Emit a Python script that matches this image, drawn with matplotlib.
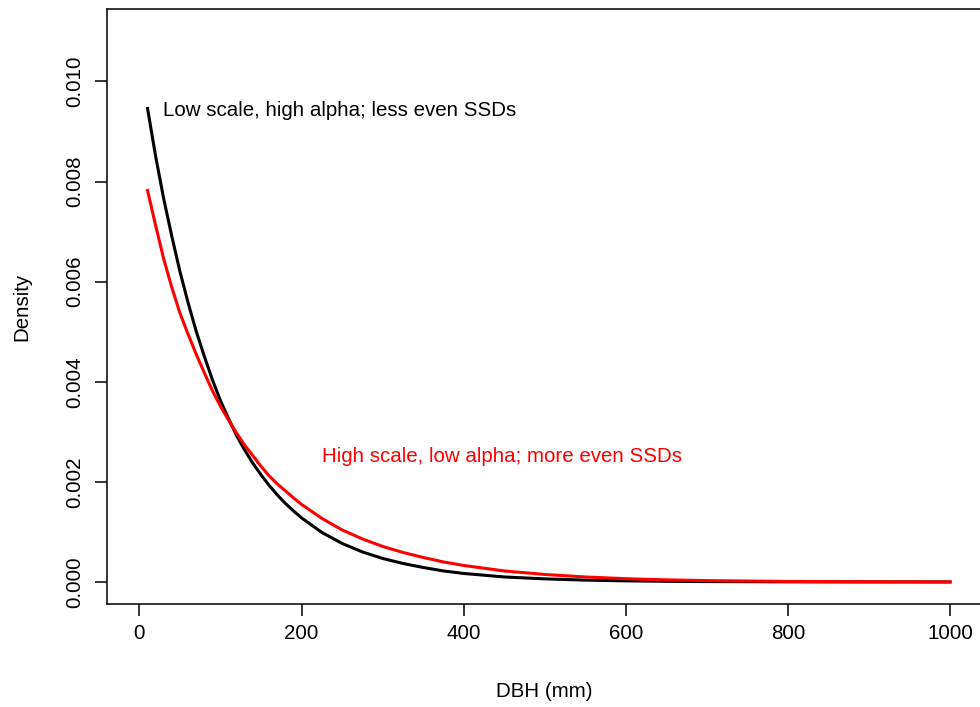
#!/usr/bin/env python

# Density curves of stem size distributions (DBH) for two parameter sets
import numpy as np
import matplotlib
matplotlib.use("Agg")
import matplotlib.pyplot as plt
from matplotlib.ticker import FormatStrFormatter

plt.rcParams['font.family'] = ['Liberation Sans', 'DejaVu Sans']

# DBH values (mm) at which the densities are listed
dbh = [10, 20, 30, 40, 50, 60, 70, 80, 90, 100, 110, 120, 130, 140, 150,
       160, 170, 180, 190, 200, 225, 250, 275, 300, 325, 350, 375, 400,
       450, 500, 550, 600, 650, 700, 800, 900, 1000]

# low scale, high alpha
dens_low_scale = [0.00946, 0.00850, 0.00765, 0.00690, 0.00620, 0.00558, 0.00501,
                  0.00451, 0.00404, 0.00362, 0.00326, 0.00292, 0.00263, 0.00237,
                  0.00214, 0.00193, 0.00174, 0.00157, 0.00142, 0.00128, 0.00099,
                  0.00077, 0.00060, 0.00047, 0.00037, 0.00029, 0.00022, 0.00017,
                  0.00010, 0.000062, 0.000037, 0.000022, 0.000013, 0.000008,
                  0.000003, 0.000001, 0.0000004]

# high scale, low alpha
dens_high_scale = [0.00782, 0.00712, 0.00645, 0.00588, 0.00537, 0.00495, 0.00455,
                   0.00418, 0.00382, 0.00351, 0.00323, 0.00297, 0.00273, 0.00252,
                   0.00231, 0.00212, 0.00196, 0.00182, 0.00168, 0.00155, 0.00127,
                   0.00104, 0.00086, 0.00071, 0.00059, 0.00049, 0.00040, 0.00033,
                   0.00022, 0.00015, 0.00010, 0.000065, 0.000042, 0.000027,
                   0.000011, 0.000004, 0.0000015]

xticks = [0, 200, 400, 600, 800, 1000]
yticks = [0.000, 0.002, 0.004, 0.006, 0.008, 0.010]

fs = 14.8

fig = plt.figure(figsize=(9.8, 7.07), dpi=100)
ax = fig.add_axes([0.1092, 0.1457, 0.8933, 0.8411])

ax.plot(dbh, dens_low_scale, color='black', lw=2.2, solid_joinstyle='round')
ax.plot(dbh, dens_high_scale, color='red', lw=2.2, solid_joinstyle='round')

ax.text(29, 0.00942, 'Low scale, high alpha; less even SSDs',
        color='black', fontsize=fs, ha='left', va='center')
ax.text(225, 0.0025, 'High scale, low alpha; more even SSDs',
        color='red', fontsize=fs, ha='left', va='center')

ax.set_xlim(-40, 1040)
ax.set_ylim(-0.00044, 0.01144)
ax.set_xticks(xticks)
ax.set_yticks(yticks)
ax.yaxis.set_major_formatter(FormatStrFormatter('%.3f'))

for sp in ax.spines.values():
    sp.set_linewidth(1.1)
    sp.set_color('black')

ax.tick_params(axis='both', length=8.6, width=1.1, labelsize=fs)
ax.tick_params(axis='x', pad=6)
ax.tick_params(axis='y', pad=8)
for lab in ax.get_yticklabels():
    lab.set_rotation(90)
    lab.set_va('center')

ax.set_xlabel('DBH (mm)', fontsize=fs, labelpad=28)
ax.set_ylabel('Density', fontsize=fs, labelpad=24)

plt.savefig('out.png', dpi=100)
